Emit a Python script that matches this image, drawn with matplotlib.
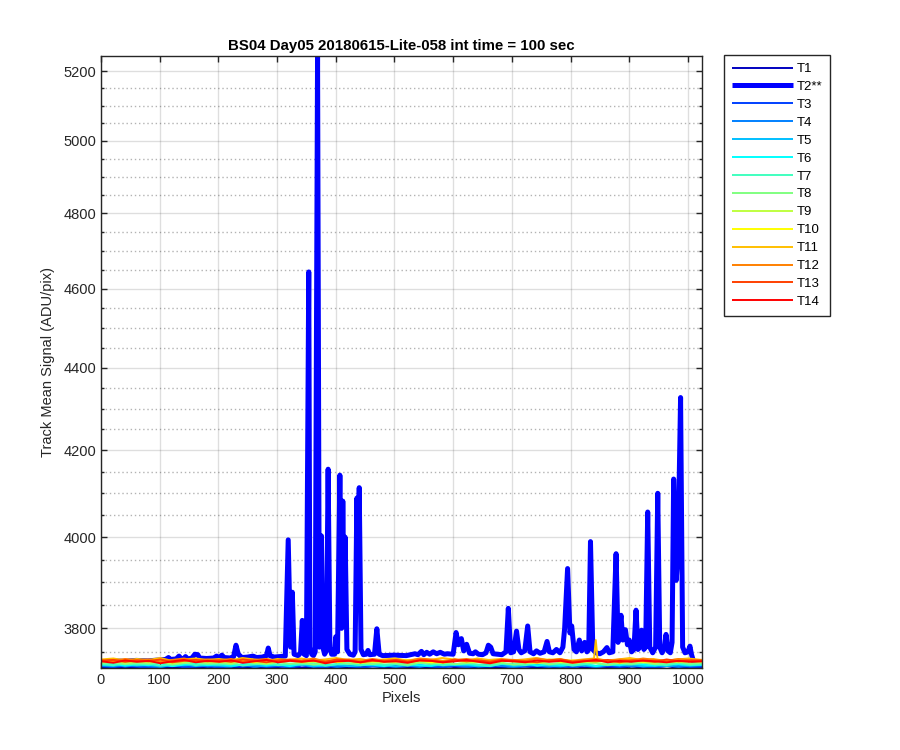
import numpy as np
import matplotlib
matplotlib.use("Agg")
import matplotlib.pyplot as plt
from matplotlib.ticker import FixedLocator, FuncFormatter, NullFormatter

plt.rcParams['font.family'] = ['Liberation Sans', 'DejaVu Sans']

title = "BS04 Day05 20180615-Lite-058 int time = 100 sec"
xlabel = "Pixels"
ylabel = "Track Mean Signal (ADU/pix)"
labels = ["T1", "T2**", "T3", "T4", "T5", "T6", "T7", "T8", "T9", "T10", "T11", "T12", "T13", "T14"]

# T2 (the hot track) read as (pixel, value) points
t2_pix = [1, 20, 40, 60, 80, 100, 110, 115, 118, 128, 133, 137, 141, 144, 148, 155, 160, 165, 168,
          180, 192, 197, 201, 206, 210, 220, 226, 230, 234, 240, 250, 259, 265, 275, 282, 285, 288,
          295, 305, 314, 319, 323, 326, 329, 336, 340, 343, 346, 350, 354, 356, 359, 362, 365, 369,
          372, 375.5, 378, 381, 384, 387, 390, 393, 398, 400, 403, 407, 410, 412, 414, 416, 419, 424,
          430, 433, 436, 438, 440, 443, 447, 452, 455, 458, 466, 470, 474, 480, 500, 520, 535, 540,
          546, 550, 555, 560, 566, 572, 578, 585, 590, 600, 605, 609, 614, 618, 623, 628, 634, 638,
          643, 650, 656, 660, 664, 668, 675, 683, 690, 694, 698, 703, 708, 712, 716, 722, 727, 731,
          737, 742, 748, 755, 760, 764, 770, 776, 782, 787, 790, 795, 799, 802, 806, 810, 815, 819,
          824, 828, 831, 834, 838, 843, 850, 856, 862, 866, 872, 877.6, 881, 886, 889, 893.5, 897,
          900, 904, 908, 911.6, 915, 918, 921, 925, 928, 931.5, 935, 940, 945, 948.6, 952, 956, 960,
          962.7, 966, 970, 973, 975.7, 980, 983, 987.5, 991, 995, 1000, 1003.5, 1006, 1010, 1024]
t2_val = [3729, 3731, 3730, 3732, 3731, 3733, 3734, 3738, 3734, 3735, 3741, 3735, 3736, 3740, 3735,
          3737, 3745, 3744, 3737, 3736, 3737, 3741, 3737, 3743, 3738, 3737, 3740, 3764, 3745, 3738,
          3739, 3741, 3738, 3739, 3742, 3758, 3742, 3739, 3740, 3741, 3994, 3760, 3878, 3745, 3742,
          3748, 3817, 3745, 3742, 4644, 3760, 3745, 3742, 3750, 5245, 3760, 4003, 3760, 3745, 3752,
          4156, 3760, 3745, 3745, 3782, 3750, 4142, 3800, 4082, 3850, 4000, 3755, 3745, 3743, 3750,
          4089, 3900, 4113, 3755, 3744, 3745, 3753, 3744, 3745, 3799, 3745, 3742, 3743, 3742, 3746,
          3744, 3751, 3744, 3749, 3745, 3750, 3746, 3749, 3745, 3746, 3745, 3791, 3765, 3778, 3752,
          3766, 3747, 3746, 3750, 3745, 3744, 3748, 3764, 3760, 3746, 3745, 3744, 3750, 3843, 3748,
          3750, 3794, 3755, 3748, 3752, 3805, 3750, 3746, 3752, 3747, 3750, 3772, 3750, 3748, 3755,
          3748, 3760, 3800, 3930, 3790, 3805, 3755, 3750, 3775, 3752, 3770, 3750, 3755, 3990, 3755,
          3748, 3746, 3750, 3759, 3748, 3750, 3963, 3770, 3828, 3775, 3797, 3765, 3775, 3750, 3755,
          3839, 3755, 3760, 3796, 3755, 3760, 4057, 3760, 3748, 3760, 4100, 3760, 3748, 3760, 3787,
          3752, 3748, 3770, 4133, 3904, 3960, 4327, 3760, 3748, 3750, 3762, 3745, 3728, 3726]

t1 = [3717, 3719, 3716, 3718, 3720, 3717, 3716, 3719, 3718, 3717, 3720, 3718, 3716, 3719, 3717, 3718,
      3720, 3716, 3718, 3719, 3717, 3716, 3718, 3720, 3717, 3719, 3718, 3716, 3717, 3720, 3718, 3719,
      3716, 3718, 3717, 3720, 3719, 3717, 3716, 3718, 3720, 3717, 3719, 3718, 3716, 3719, 3717, 3718,
      3720, 3716, 3718, 3717]
t3 = [3720, 3718, 3721, 3719, 3717, 3720, 3722, 3718, 3719, 3721, 3717, 3720, 3719, 3722, 3718, 3720,
      3717, 3721, 3719, 3718, 3722, 3720, 3717, 3719, 3721, 3718, 3720, 3722, 3719, 3717, 3721, 3718,
      3720, 3719, 3722, 3717, 3719, 3721, 3718, 3720, 3717, 3722, 3719, 3720, 3718, 3721, 3719, 3717,
      3720, 3722, 3718, 3719]
t4 = [3721, 3723, 3719, 3722, 3720, 3718, 3722, 3721, 3723, 3719, 3721, 3720, 3723, 3718, 3722, 3721,
      3719, 3723, 3720, 3722, 3718, 3721, 3723, 3720, 3719, 3722, 3721, 3718, 3723, 3720, 3722, 3719,
      3721, 3723, 3720, 3718, 3722, 3721, 3719, 3723, 3720, 3721, 3718, 3722, 3723, 3719, 3721, 3720,
      3722, 3718, 3721, 3723]
t5 = [3722, 3720, 3724, 3721, 3723, 3719, 3722, 3724, 3720, 3723, 3721, 3719, 3724, 3722, 3720, 3723,
      3721, 3724, 3719, 3722, 3723, 3720, 3721, 3724, 3722, 3719, 3723, 3721, 3720, 3724, 3722, 3723,
      3719, 3721, 3724, 3720, 3722, 3723, 3721, 3719, 3724, 3722, 3720, 3723, 3721, 3724, 3719, 3722,
      3720, 3723, 3721, 3722]
t6 = [3723, 3725, 3721, 3724, 3722, 3726, 3720, 3723, 3725, 3722, 3724, 3721, 3723, 3726, 3722, 3724,
      3720, 3725, 3723, 3721, 3724, 3726, 3722, 3723, 3720, 3725, 3724, 3722, 3721, 3726, 3723, 3724,
      3722, 3720, 3725, 3723, 3726, 3721, 3724, 3722, 3723, 3725, 3720, 3724, 3722, 3726, 3723, 3721,
      3725, 3724, 3722, 3723]
t7 = [3724, 3722, 3726, 3723, 3725, 3721, 3724, 3727, 3722, 3725, 3723, 3726, 3721, 3724, 3726, 3722,
      3725, 3723, 3727, 3721, 3724, 3725, 3722, 3726, 3723, 3724, 3721, 3727, 3725, 3722, 3724, 3726,
      3723, 3721, 3725, 3724, 3722, 3727, 3723, 3725, 3721, 3724, 3726, 3722, 3725, 3723, 3727, 3724,
      3722, 3726, 3723, 3724]
t8 = [3726, 3728, 3724, 3727, 3725, 3729, 3723, 3726, 3728, 3725, 3727, 3724, 3729, 3726, 3724, 3728,
      3725, 3727, 3723, 3726, 3729, 3725, 3727, 3724, 3728, 3726, 3723, 3727, 3725, 3729, 3724, 3726,
      3728, 3725, 3727, 3723, 3726, 3729, 3724, 3727, 3725, 3728, 3726, 3723, 3727, 3725, 3728, 3724,
      3726, 3729, 3725, 3727]
t9 = [3729, 3732, 3727, 3730, 3728, 3731, 3726, 3729, 3732, 3728, 3730, 3727, 3731, 3729, 3726, 3730,
      3732, 3728, 3729, 3727, 3731, 3730, 3726, 3729, 3728, 3732, 3727, 3730, 3729, 3726, 3731, 3728,
      3730, 3727, 3732, 3729, 3728, 3726, 3730, 3731, 3727, 3729, 3728, 3732, 3726, 3730, 3729, 3727,
      3731, 3728, 3730, 3729]
t10 = [3732, 3729, 3734, 3731, 3733, 3728, 3731, 3734, 3730, 3732, 3729, 3733, 3731, 3728, 3734, 3730,
       3732, 3729, 3733, 3731, 3728, 3732, 3734, 3730, 3731, 3729, 3733, 3732, 3728, 3730, 3734, 3731,
       3729, 3733, 3730, 3732, 3728, 3731, 3734, 3729, 3732, 3730, 3733, 3728, 3731, 3734, 3729, 3732,
       3730, 3733, 3731, 3730]
t11_pix = [1, 21, 41, 61, 81, 101, 121, 141, 161, 181, 201, 221, 241, 261, 281, 301, 321, 341, 361, 381,
           401, 421, 441, 461, 481, 501, 521, 541, 561, 581, 601, 621, 641, 661, 681, 701, 721, 741,
           761, 781, 801, 821, 840, 843, 846, 861, 881, 901, 921, 941, 961, 981, 1001, 1024]
t11 = [3734, 3736, 3732, 3735, 3733, 3737, 3731, 3734, 3736, 3733, 3735, 3732, 3737, 3734, 3731, 3735,
       3733, 3736, 3732, 3734, 3737, 3733, 3735, 3731, 3734, 3736, 3732, 3735, 3733, 3737, 3734, 3731,
       3736, 3733, 3735, 3732, 3734, 3737, 3733, 3735, 3731, 3734, 3736, 3775, 3735, 3732, 3734, 3737,
       3733, 3735, 3731, 3734, 3736, 3733]
t12 = [3733, 3731, 3735, 3732, 3734, 3730, 3733, 3736, 3731, 3734, 3732, 3735, 3730, 3733, 3735, 3731,
       3734, 3732, 3736, 3730, 3733, 3734, 3731, 3735, 3732, 3733, 3730, 3736, 3734, 3731, 3733, 3735,
       3732, 3730, 3734, 3733, 3731, 3736, 3732, 3734, 3730, 3733, 3735, 3731, 3734, 3732, 3736, 3733,
       3731, 3735, 3732, 3733]
t13 = [3731, 3733, 3729, 3732, 3730, 3734, 3728, 3731, 3733, 3730, 3732, 3729, 3734, 3731, 3728, 3732,
       3733, 3730, 3731, 3729, 3734, 3732, 3728, 3731, 3730, 3733, 3729, 3732, 3731, 3728, 3734, 3730,
       3732, 3729, 3733, 3731, 3730, 3728, 3732, 3734, 3729, 3731, 3730, 3733, 3728, 3732, 3731, 3729,
       3734, 3730, 3732, 3731]
t14 = [3730, 3727, 3732, 3729, 3731, 3726, 3730, 3733, 3728, 3731, 3729, 3732, 3727, 3730, 3733, 3728,
       3731, 3729, 3732, 3726, 3730, 3731, 3728, 3733, 3729, 3730, 3727, 3732, 3731, 3728, 3730, 3733,
       3729, 3726, 3731, 3730, 3728, 3732, 3729, 3731, 3727, 3730, 3733, 3728, 3731, 3729, 3732, 3730,
       3728, 3731, 3729, 3730]

series = [
    (None, t1), (t2_pix, t2_val), (None, t3), (None, t4), (None, t5), (None, t6), (None, t7),
    (None, t8), (None, t9), (None, t10), (t11_pix, t11), (None, t12), (None, t13), (None, t14),
]

# jet(16) first 14 colours
colors = [(0, 0, 0.75), (0, 0, 1), (0, 0.25, 1), (0, 0.5, 1), (0, 0.75, 1), (0, 1, 1),
          (0.25, 1, 0.75), (0.5, 1, 0.5), (0.75, 1, 0.25), (1, 1, 0), (1, 0.75, 0),
          (1, 0.5, 0), (1, 0.25, 0), (1, 0, 0)]

fig = plt.figure(figsize=(9, 7.5), dpi=100)
ax = fig.add_axes([0.1122, 0.1093, 0.6678, 0.8164])

handles = []
allvals = []
for i, ((px, vals), c, lab) in enumerate(zip(series, colors, labels)):
    if px is None:
        px = np.linspace(1, 1024, len(vals))
    lw = 3.6 if i == 1 else 1.4
    h, = ax.plot(px, vals, color=c, lw=lw, label=lab, solid_joinstyle='round',
                 solid_capstyle='butt')
    handles.append(h)
    allvals.extend(vals)

ax.set_yscale('log')
ax.set_xlim(0, 1024)
ax.set_ylim(min(allvals), max(allvals))

ax.xaxis.set_major_locator(FixedLocator(np.arange(0, 1001, 100)))
ax.yaxis.set_major_locator(FixedLocator(np.arange(3800, 5201, 200)))
ax.yaxis.set_minor_locator(FixedLocator([v for v in range(3700, 5300, 50) if v % 200 != 0]))
ax.yaxis.set_major_formatter(FuncFormatter(lambda v, p: f"{v:.0f}"))
ax.yaxis.set_minor_formatter(NullFormatter())

dark = (0.15, 0.15, 0.15)
ax.grid(True, which='major', color=(0.15, 0.15, 0.15), alpha=0.15, lw=1.0, ls='-')
ax.grid(True, which='minor', axis='y', color=(0.15, 0.15, 0.15), alpha=0.35, lw=1.0, ls=(0, (1, 2)))
ax.set_axisbelow(True)

ax.tick_params(which='both', direction='in', top=True, right=True, colors=dark,
               labelsize=10.5, length=4, width=1.0, labelcolor=dark)
ax.tick_params(which='minor', length=2.5)
for s in ax.spines.values():
    s.set_color(dark)
    s.set_linewidth(1.0)

ax.set_title(title, fontsize=10.8, fontweight='bold', pad=4, color='black')
ax.set_xlabel(xlabel, fontsize=10.5, color=dark, labelpad=3)
ax.set_ylabel(ylabel, fontsize=10.5, color=dark, labelpad=6)

leg = fig.legend(handles=handles, loc='upper left', bbox_to_anchor=(0.8044, 0.9267),
                 borderaxespad=0, fontsize=9.5, handlelength=4.6, handletextpad=0.3,
                 labelspacing=0.43, borderpad=0.6, fancybox=False, framealpha=1,
                 edgecolor=dark)
leg.get_frame().set_linewidth(1.0)

fig.savefig("out.png", dpi=100)
